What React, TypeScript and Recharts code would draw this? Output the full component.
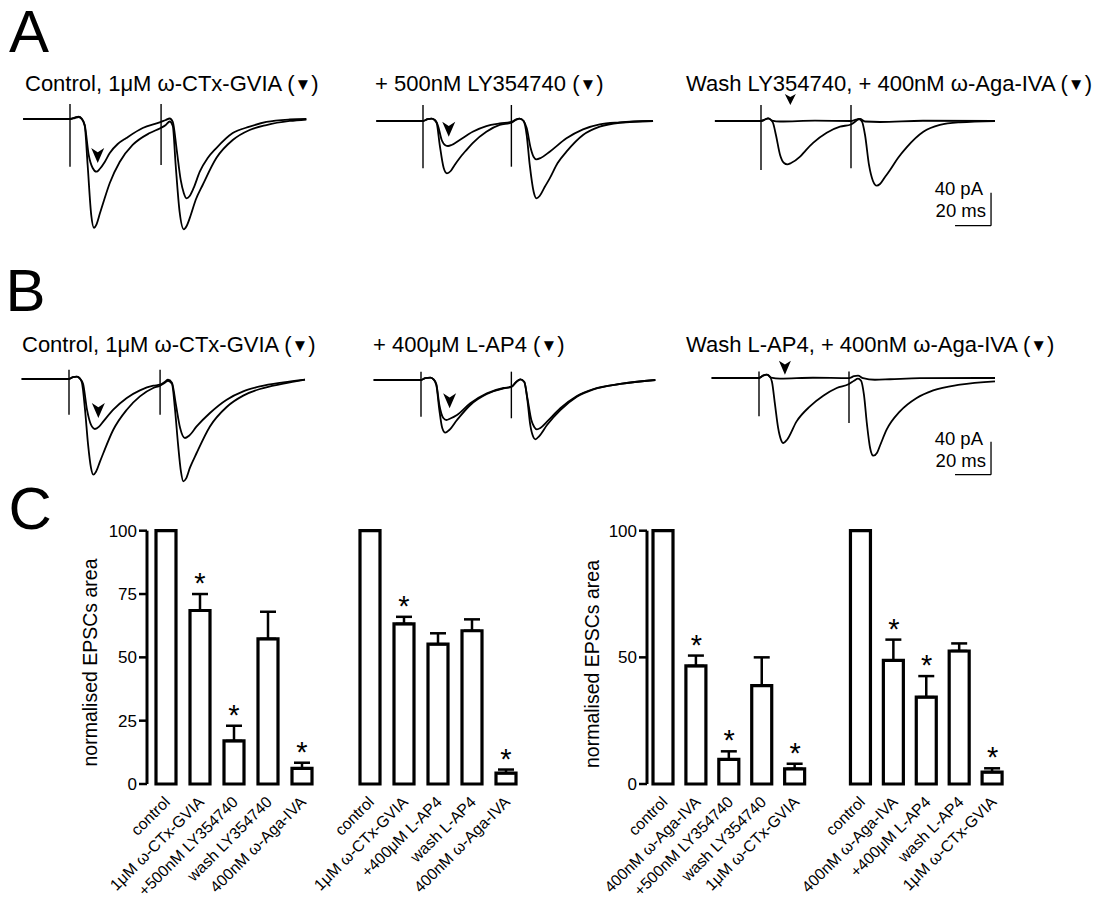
import React from "react";
import {
  Bar,
  ComposedChart,
  ErrorBar,
  Line,
  LineChart,
  ReferenceDot,
  ReferenceLine,
  Scatter,
  XAxis,
  YAxis,
} from "recharts";

const FONT = '"Liberation Sans", Arial, Helvetica, sans-serif';

type Pt = [number, number];

// Traces: [time from 1st stimulus (ms), current (pA)]
// Scale bars are 20 ms / 40 pA
const PX_PER_MS = 1.8;
const PX_PER_PA = 0.825;

// ---- A: LY354740 ----
const A1_CONTROL: Pt[] = [
  [-26, 0], [0, 0], [2.6, 1.2], [4.8, 2.4], [6.5, 0], [8.2, -8.5], [9.8, -55.8], [11.8, -116.4],
  [13.3, -131.8], [14.8, -127.3], [16.5, -115.2], [19.3, -95.8], [22.1, -77.6], [27.6, -52.1],
  [34.8, -31.5], [44.3, -17], [50.4, -10.9], [53.2, -7.3], [55.4, -3], [57.1, -8.5], [58.7, -55.8],
  [60.9, -112.7], [63.2, -133.7], [64.8, -129.7], [67.1, -116.4], [69.8, -98.2], [73.7, -80],
  [81.3, -47.3], [90.4, -25.5], [99.8, -13.3], [109.1, -7.3], [122.1, -2.4], [131.3, -0.6],
];
const A1_CTX: Pt[] = [
  [-26, 0], [0, 0], [2.6, 1.8], [4.8, 3], [6.5, 0.6], [8.2, -7.3], [10.4, -43.6], [12.6, -59.4],
  [14.7, -63.9], [16.5, -60.6], [19.3, -52.1], [22.1, -41.2], [26.5, -30.3], [31.3, -23],
  [40.4, -10.9], [49.8, -4.2], [53.2, -1.2], [55.4, 0.6], [57.1, -3.6], [59.3, -37.6], [61.5, -73.9],
  [63.2, -89.7], [64.7, -96.1], [66.5, -93.3], [68.7, -83.6], [72.1, -63.9], [76.5, -47.3],
  [81.3, -35.2], [90.4, -17], [99.8, -9.3], [109.1, -3.6], [122.1, -0.6], [131.3, 0],
];
const A2_CONTROL: Pt[] = [
  [-25.9, 0], [0, 0], [2.6, 2.4], [4.8, 3], [6.5, 1.2], [7.6, -2.4], [9.3, -29.1], [11.5, -57],
  [13.3, -63.4], [15.4, -60.6], [17.6, -53.3], [20.4, -44.8], [24.1, -35.2], [27.6, -26.7],
  [35.2, -13], [42.6, -4.8], [49.1, -2.1], [51.5, 1.2], [53.7, 3], [55.9, 0], [57.6, -17],
  [59.3, -53.3], [61.5, -86.1], [63, -93.7], [64.8, -90.9], [67.6, -80], [70.4, -69.5],
  [74.8, -50.9], [79.7, -37.2], [88.9, -17], [98.2, -6.9], [109.3, -2.1], [127.8, 0],
];
const A2_LY: Pt[] = [
  [-25.9, 0], [0, 0], [2.6, 2.4], [4.8, 3], [6.5, 1.2], [8.2, -4.8], [10.4, -23], [12.6, -29.7],
  [13.9, -30.3], [15.9, -29.1], [20.4, -23], [27.6, -13], [35.2, -6.1], [42.6, -3], [49.1, -1.2],
  [51.5, 1.8], [53.7, 3], [55.9, 0], [57.6, -8.5], [59.8, -32.7], [61.5, -43.6], [63, -46.4],
  [65.4, -44.8], [70.4, -37.2], [79.7, -21], [88.9, -10.1], [98.2, -4], [109.3, -1.6], [127.8, 0],
];
const A3_CONTROL: Pt[] = [
  [-25.6, 0], [0, 0], [2.2, 1.8], [3.9, 3.3], [5.6, 1.2], [6.7, -2.4], [8.3, -17], [10.6, -41.2],
  [12.8, -50.9], [14.6, -52.5], [16.7, -50.9], [21.7, -43.3], [25, -35.2], [29.1, -26.3],
  [36.5, -14.2], [43.9, -6.9], [50, -4.2], [52.8, 0], [54.4, 2.4], [56.1, -0.6], [57.8, -17],
  [60, -53.3], [62.2, -72.7], [64.3, -78.4], [66.1, -76.4], [68.9, -67.9], [71.7, -59.4],
  [76.1, -44.8], [80.9, -31.9], [90.2, -13], [99.4, -4.8], [110.6, -1.6], [130, 0],
];
const A3_AGA: Pt[] = [
  [-25.6, 0], [0, 0], [2.2, 1.8], [3.9, 3.3], [6.1, 0.6], [10.6, -0.6], [30, 0.4], [50, 0],
  [52.8, 1.8], [55, 2.4], [57.8, -0.6], [66.1, -1.2], [90, 0.3], [130, 0],
];

// ---- B: L-AP4 ----
const B1_CONTROL: Pt[] = [
  [-26.3, 0], [0, 0], [2.2, 2.2], [4.4, 2.8], [6.1, 0.4], [7.2, -4.5], [8.9, -37.2], [10.6, -79.6],
  [12.2, -107.5], [13.5, -116], [15, -112.4], [17.2, -100.2], [19.1, -89.7], [24.6, -61.5],
  [32.1, -37.2], [39.4, -21.1], [46.8, -10.9], [50.6, -8.1], [53.3, -4.5], [55, -2.1], [57.2, -5.7],
  [58.9, -37.2], [60.6, -79.6], [62.2, -112.4], [63.5, -124.1], [65, -120.8], [67.2, -107.5],
  [70.9, -89.7], [78.3, -57.5], [87.6, -33.9], [96.8, -20.2], [106.1, -12.1], [119.1, -5.7],
  [131.1, -0.8],
];
const B1_CTX: Pt[] = [
  [-26.3, 0], [0, 0], [2.2, 2.2], [4.4, 2.8], [6.1, 0.4], [7.8, -5.7], [10, -37.2], [12.2, -55.4],
  [14.4, -60.6], [16.7, -57.8], [19.1, -51.4], [24.6, -37.2], [32.1, -23], [39.4, -13.8],
  [46.8, -8.1], [50.6, -6.9], [53.3, -3.3], [55, -0.8], [57.2, -4.5], [59.4, -31.2], [61.7, -59],
  [64.4, -71.5], [66.7, -68.7], [70.9, -57.5], [78.3, -41.2], [87.6, -25.1], [96.8, -15],
  [106.1, -9], [119.1, -4.1], [131.1, -0.8],
];
const B2_CONTROL: Pt[] = [
  [-26.3, 0], [0, 0], [2.4, 2.4], [5.2, 3], [6.8, 1.2], [8.5, -6.1], [10.2, -36.4], [11.8, -58.2],
  [13.5, -63.9], [15.7, -60.6], [20, -48.5], [27.4, -30.3], [36.6, -17], [45.9, -10.1],
  [50.2, -8.5], [52.9, -2.4], [55.2, 0.8], [57.4, -2.4], [59.1, -24.2], [60.7, -54.5], [62.4, -69.1],
  [63.5, -71.9], [65.7, -67.9], [70, -54.5], [77.4, -36.4], [86.6, -20.2], [95.9, -11.3],
  [110.7, -4.8], [130.2, 0],
];
const B2_LAP4: Pt[] = [
  [-26.3, 0], [0, 0], [2.4, 2.4], [5.2, 3], [6.8, 1.2], [8.5, -4.8], [10.2, -30.3], [12.4, -46.1],
  [14.1, -48.5], [16.3, -46.7], [20, -42.4], [27.4, -28.2], [36.6, -16.1], [45.9, -9.7],
  [50.2, -8.1], [52.9, -2.4], [55.2, 0.8], [57.4, -2.4], [59.1, -21.8], [61.3, -48.5], [62.9, -57],
  [64.4, -59.8], [66.3, -58.2], [70, -50.5], [77.4, -34.3], [86.6, -19.4], [95.9, -10.9],
  [110.7, -4.8], [130.2, 0],
];
const B3_CONTROL: Pt[] = [
  [-26.3, 0], [0, 0], [2.2, 2.8], [4.4, 4], [6.1, 1.6], [7.2, -4.5], [8.9, -32.4], [10.6, -60.2],
  [12.2, -74.8], [13.5, -78.8], [15.6, -74.8], [20.9, -52.6], [28.3, -34.4], [35.7, -21.5],
  [43.2, -12.1], [50, -7.3], [52.8, -3.3], [55, -0.8], [56.7, -3.3], [58.3, -20.2], [60, -56.6],
  [61.7, -84.5], [63.5, -94.2], [65.6, -90.5], [67.2, -82.1], [70.9, -62.7], [78.3, -40.5],
  [87.6, -24.2], [96.8, -15], [111.7, -8.1], [131.1, -4.1],
];
const B3_AGA: Pt[] = [
  [-26.3, 0], [0, 0], [2.2, 2.8], [4.4, 4], [6.7, 0.4], [11.7, -0.8], [30, 0.3], [50, -0.2],
  [52.8, 2.2], [55, 2.8], [57.8, -0.2], [64.4, -2.1], [72.8, -1.5], [89.4, -0.2], [131.1, 0],
];

// stimulus artefacts: [time ms, top pA, bottom pA]
const A1_STIMS: [number, number, number][] = [[0, 18.2, -57.8], [50.6, 18.2, -55.8]];
const A2_STIMS: [number, number, number][] = [[0, 19.4, -57.3], [49.1, 19.4, -55.4]];
const A3_STIMS: [number, number, number][] = [[0, 19.4, -59.4], [50, 19.4, -57.3]];
const B1_STIMS: [number, number, number][] = [[0, 11.3, -43.2], [50.6, 11.3, -43.2]];
const B2_STIMS: [number, number, number][] = [[0, 10.1, -44.5], [50.2, 10.1, -46.4]];
const B3_STIMS: [number, number, number][] = [[0, 8, -46.5], [50, 8, -54.5]];

// arrowhead tips marking the drug trace
const A1_ARROW: Pt = [15.4, -53.3];
const A2_ARROW: Pt = [14.3, -19];
const A3_ARROW: Pt = [16.3, 19.4];
const B1_ARROW: Pt = [16.3, -47.3];
const B2_ARROW: Pt = [15.9, -34.3];
const B3_ARROW: Pt = [14.4, 4];

const SCALE_MS = 20;
const SCALE_PA = 40;

// ---- C: normalised EPSC area (%) ----
const C1_LABELS = [
  "control", "1\u03bcM \u03c9-CTx-GVIA", "+500nM LY354740", "wash LY354740", "400nM \u03c9-Aga-IVA", "",
  "control", "1\u03bcM \u03c9-CTx-GVIA", "+400\u03bcM L-AP4", "wash L-AP4", "400nM \u03c9-Aga-IVA",
];
const C1_MEANS = [100, 68.5, 17, 57.3, 6.2, null, 100, 63.2, 55.2, 60.5, 4.3];
const C1_SEM = [0, 6.5, 6, 10.7, 2.2, 0, 0, 2.8, 4.3, 4.5, 1.4];
const C1_SIG = [false, true, true, false, true, false, false, true, false, false, true];
const C1_TICKS = [0, 25, 50, 75, 100];

const C2_LABELS = [
  "control", "400nM \u03c9-Aga-IVA", "+500nM LY354740", "wash LY354740", "1\u03bcM \u03c9-CTx-GVIA", "",
  "control", "400nM \u03c9-Aga-IVA", "+400\u03bcM L-AP4", "wash L-AP4", "1\u03bcM \u03c9-CTx-GVIA",
];
const C2_MEANS = [100, 46.6, 9.7, 38.8, 6, null, 100, 48.8, 34.3, 52.5, 4.7];
const C2_SEM = [0, 4.1, 3.2, 11.2, 2, 0, 0, 8.2, 8.3, 3, 1.5];
const C2_SIG = [false, true, true, false, true, false, false, true, true, false, true];
const C2_TICKS = [0, 50, 100];

// trace panel geometry
const PANEL_H = 170;
const STIM_PX = 60; // px from panel left to the first stimulus
const BASE_PX = 40; // px from panel top to the baseline

function arrowHead(w: number, h: number) {
  return (props: any) => {
    const { cx, cy } = props;
    if (cx == null || cy == null) return <g />;
    return (
      <path
        d={`M${cx},${cy} L${cx - w / 2},${cy - h} L${cx},${cy - h * 0.72} L${cx + w / 2},${cy - h} Z`}
        fill="#000"
      />
    );
  };
}

interface TraceProps {
  left: number;
  top: number;
  width: number;
  traces: Pt[][];
  stims: [number, number, number][];
  arrow: Pt;
  arrowSize?: [number, number];
  scale?: Pt;
}

function TracePanel({ left, top, width, traces, stims, arrow, arrowSize = [13, 15], scale }: TraceProps) {
  const xDomain = [-STIM_PX / PX_PER_MS, (width - STIM_PX) / PX_PER_MS];
  const yDomain = [-(PANEL_H - BASE_PX) / PX_PER_PA, BASE_PX / PX_PER_PA];
  return (
    <div style={{ position: "absolute", left, top }}>
      <LineChart width={width} height={PANEL_H} margin={{ top: 0, right: 0, bottom: 0, left: 0 }}>
        <XAxis type="number" dataKey="t" domain={xDomain} hide allowDataOverflow />
        <YAxis type="number" domain={yDomain} hide allowDataOverflow />
        {stims.map(([t, hi, lo], k) => (
          <ReferenceLine
            key={"stim" + k}
            segment={[{ x: t, y: hi }, { x: t, y: lo }]}
            stroke="#000"
            strokeWidth={1.4}
          />
        ))}
        {traces.map((tr, k) => (
          <Line
            key={"tr" + k}
            data={tr.map(([t, i]) => ({ t, i }))}
            dataKey="i"
            type="monotone"
            dot={false}
            stroke="#000"
            strokeWidth={1.8}
            isAnimationActive={false}
          />
        ))}
        <ReferenceDot x={arrow[0]} y={arrow[1]} shape={arrowHead(arrowSize[0], arrowSize[1])} />
        {scale && (
          <ReferenceLine
            segment={[{ x: scale[0], y: scale[1] }, { x: scale[0], y: scale[1] + SCALE_PA }]}
            stroke="#000"
            strokeWidth={1.3}
          />
        )}
        {scale && (
          <ReferenceLine
            segment={[{ x: scale[0] - SCALE_MS, y: scale[1] }, { x: scale[0], y: scale[1] }]}
            stroke="#000"
            strokeWidth={1.3}
          />
        )}
      </LineChart>
    </div>
  );
}

function Star(props: any) {
  const { cx, cy, payload } = props;
  if (!payload || payload.star == null) return <g />;
  return (
    <text x={cx} y={cy - 1} textAnchor="middle" fontSize={29} fontFamily={FONT} fill="#000">
      *
    </text>
  );
}

interface BarsProps {
  left: number;
  width: number;
  rightPad: number;
  padLeft: number;
  labels: string[];
  means: (number | null)[];
  sems: number[];
  sig: boolean[];
  ticks: number[];
}

function EpscBars({ left, width, rightPad, padLeft, labels, means, sems, sig, ticks }: BarsProps) {
  const data = labels.map((_, k) => ({
    id: k,
    value: means[k],
    err: sems[k] ? [0, sems[k]] : null,
    star: sig[k] ? (means[k] as number) + sems[k] : null,
  }));
  const renderTick = (p: any) => {
    const label = labels[p.payload.value];
    if (!label) return <g />;
    const ax = p.x + 5;
    const ay = p.y + 19;
    return (
      <text
        x={ax}
        y={ay}
        transform={`rotate(-45 ${ax} ${ay})`}
        textAnchor="end"
        fontSize={15.8}
        fontFamily={FONT}
        fill="#000"
      >
        {label}
      </text>
    );
  };
  return (
    <div style={{ position: "absolute", left, top: 510 }}>
      <ComposedChart
        width={width}
        height={390}
        data={data}
        margin={{ top: 20.7, right: rightPad, bottom: 0, left: 0 }}
      >
        <XAxis
          dataKey="id"
          type="category"
          height={116}
          interval={0}
          axisLine={false}
          tickLine={false}
          tickSize={0}
          tickMargin={0}
          padding={{ left: padLeft, right: 0 }}
          tick={renderTick}
        />
        <YAxis
          type="number"
          domain={[0, 100]}
          ticks={ticks}
          interval={0}
          width={87}
          tickSize={8}
          tickMargin={2}
          axisLine={{ stroke: "#000", strokeWidth: 3 }}
          tickLine={{ stroke: "#000", strokeWidth: 2.5 }}
          tick={{ fill: "#000", fontSize: 17, fontFamily: FONT }}
        />
        <Bar dataKey="value" barSize={20} fill="#fff" stroke="#000" strokeWidth={3.2} isAnimationActive={false}>
          <ErrorBar dataKey="err" width={8} stroke="#000" strokeWidth={2.5} direction="y" />
        </Bar>
        <Scatter dataKey="star" shape={Star} isAnimationActive={false} />
      </ComposedChart>
    </div>
  );
}

const titleStyle = { fontSize: 22, fontFamily: FONT, fill: "#000" } as const;

function Title({ x, y, text }: { x: number; y: number; text: string }) {
  return (
    <text x={x} y={y} {...titleStyle}>
      {text} (<tspan fontSize={17} dy={-1}>▼</tspan>
      <tspan dy={1}>)</tspan>
    </text>
  );
}

export default function App() {
  return (
    <div
      style={{
        position: "absolute",
        left: 0,
        top: 0,
        width: 1102,
        height: 900,
        background: "#fff",
        overflow: "hidden",
      }}
    >
      <TracePanel left={10.3} top={79} width={320} traces={[A1_CONTROL, A1_CTX]} stims={A1_STIMS} arrow={A1_ARROW} />
      <TracePanel left={363.3} top={81} width={320} traces={[A2_CONTROL, A2_LY]} stims={A2_STIMS} arrow={A2_ARROW} />
      <TracePanel
        left={701}
        top={81}
        width={390}
        traces={[A3_CONTROL, A3_AGA]}
        stims={A3_STIMS}
        arrow={A3_ARROW}
        arrowSize={[11, 11]}
        scale={[127.8, -126.9]}
      />
      <TracePanel left={9} top={339.3} width={320} traces={[B1_CONTROL, B1_CTX]} stims={B1_STIMS} arrow={B1_ARROW} />
      <TracePanel left={360.7} top={340} width={320} traces={[B2_CONTROL, B2_LAP4]} stims={B2_STIMS} arrow={B2_ARROW} />
      <TracePanel
        left={699}
        top={338.3}
        width={390}
        traces={[B3_CONTROL, B3_AGA]}
        stims={B3_STIMS}
        arrow={B3_ARROW}
        arrowSize={[12, 14]}
        scale={[128.9, -117.2]}
      />

      <EpscBars
        left={60}
        width={473}
        rightPad={10}
        padLeft={2}
        labels={C1_LABELS}
        means={C1_MEANS}
        sems={C1_SEM}
        sig={C1_SIG}
        ticks={C1_TICKS}
      />
      <EpscBars
        left={560}
        width={542}
        rightPad={93}
        padLeft={0}
        labels={C2_LABELS}
        means={C2_MEANS}
        sems={C2_SEM}
        sig={C2_SIG}
        ticks={C2_TICKS}
      />

      <svg width={1102} height={900} style={{ position: "absolute", left: 0, top: 0, pointerEvents: "none" }}>
        <text x={9} y={52} fontSize={60} fontFamily={FONT}>A</text>
        <text x={5.5} y={310.7} fontSize={60} fontFamily={FONT}>B</text>
        <text x={8.5} y={529} fontSize={60} fontFamily={FONT}>C</text>

        <Title x={25} y={91} text="Control, 1μM ω-CTx-GVIA" />
        <Title x={375} y={91} text="+ 500nM LY354740" />
        <Title x={686} y={91} text="Wash LY354740, + 400nM ω-Aga-IVA" />
        <Title x={22} y={351.5} text="Control, 1μM ω-CTx-GVIA" />
        <Title x={373} y={351.5} text="+ 400μM L-AP4" />
        <Title x={686} y={351.5} text="Wash L-AP4, + 400nM ω-Aga-IVA" />

        <text x={983} y={195} textAnchor="end" fontSize={18.5} fontFamily={FONT}>40 pA</text>
        <text x={986} y={217} textAnchor="end" fontSize={18.5} fontFamily={FONT}>20 ms</text>
        <text x={983} y={445} textAnchor="end" fontSize={18.5} fontFamily={FONT}>40 pA</text>
        <text x={986} y={467} textAnchor="end" fontSize={18.5} fontFamily={FONT}>20 ms</text>

        <text
          x={96.5}
          y={662.5}
          transform="rotate(-90 96.5 662.5)"
          textAnchor="middle"
          fontSize={19.5}
          fontFamily={FONT}
        >
          normalised EPSCs area
        </text>
        <text
          x={598.5}
          y={664}
          transform="rotate(-90 598.5 664)"
          textAnchor="middle"
          fontSize={19.5}
          fontFamily={FONT}
        >
          normalised EPSCs area
        </text>
      </svg>
    </div>
  );
}
